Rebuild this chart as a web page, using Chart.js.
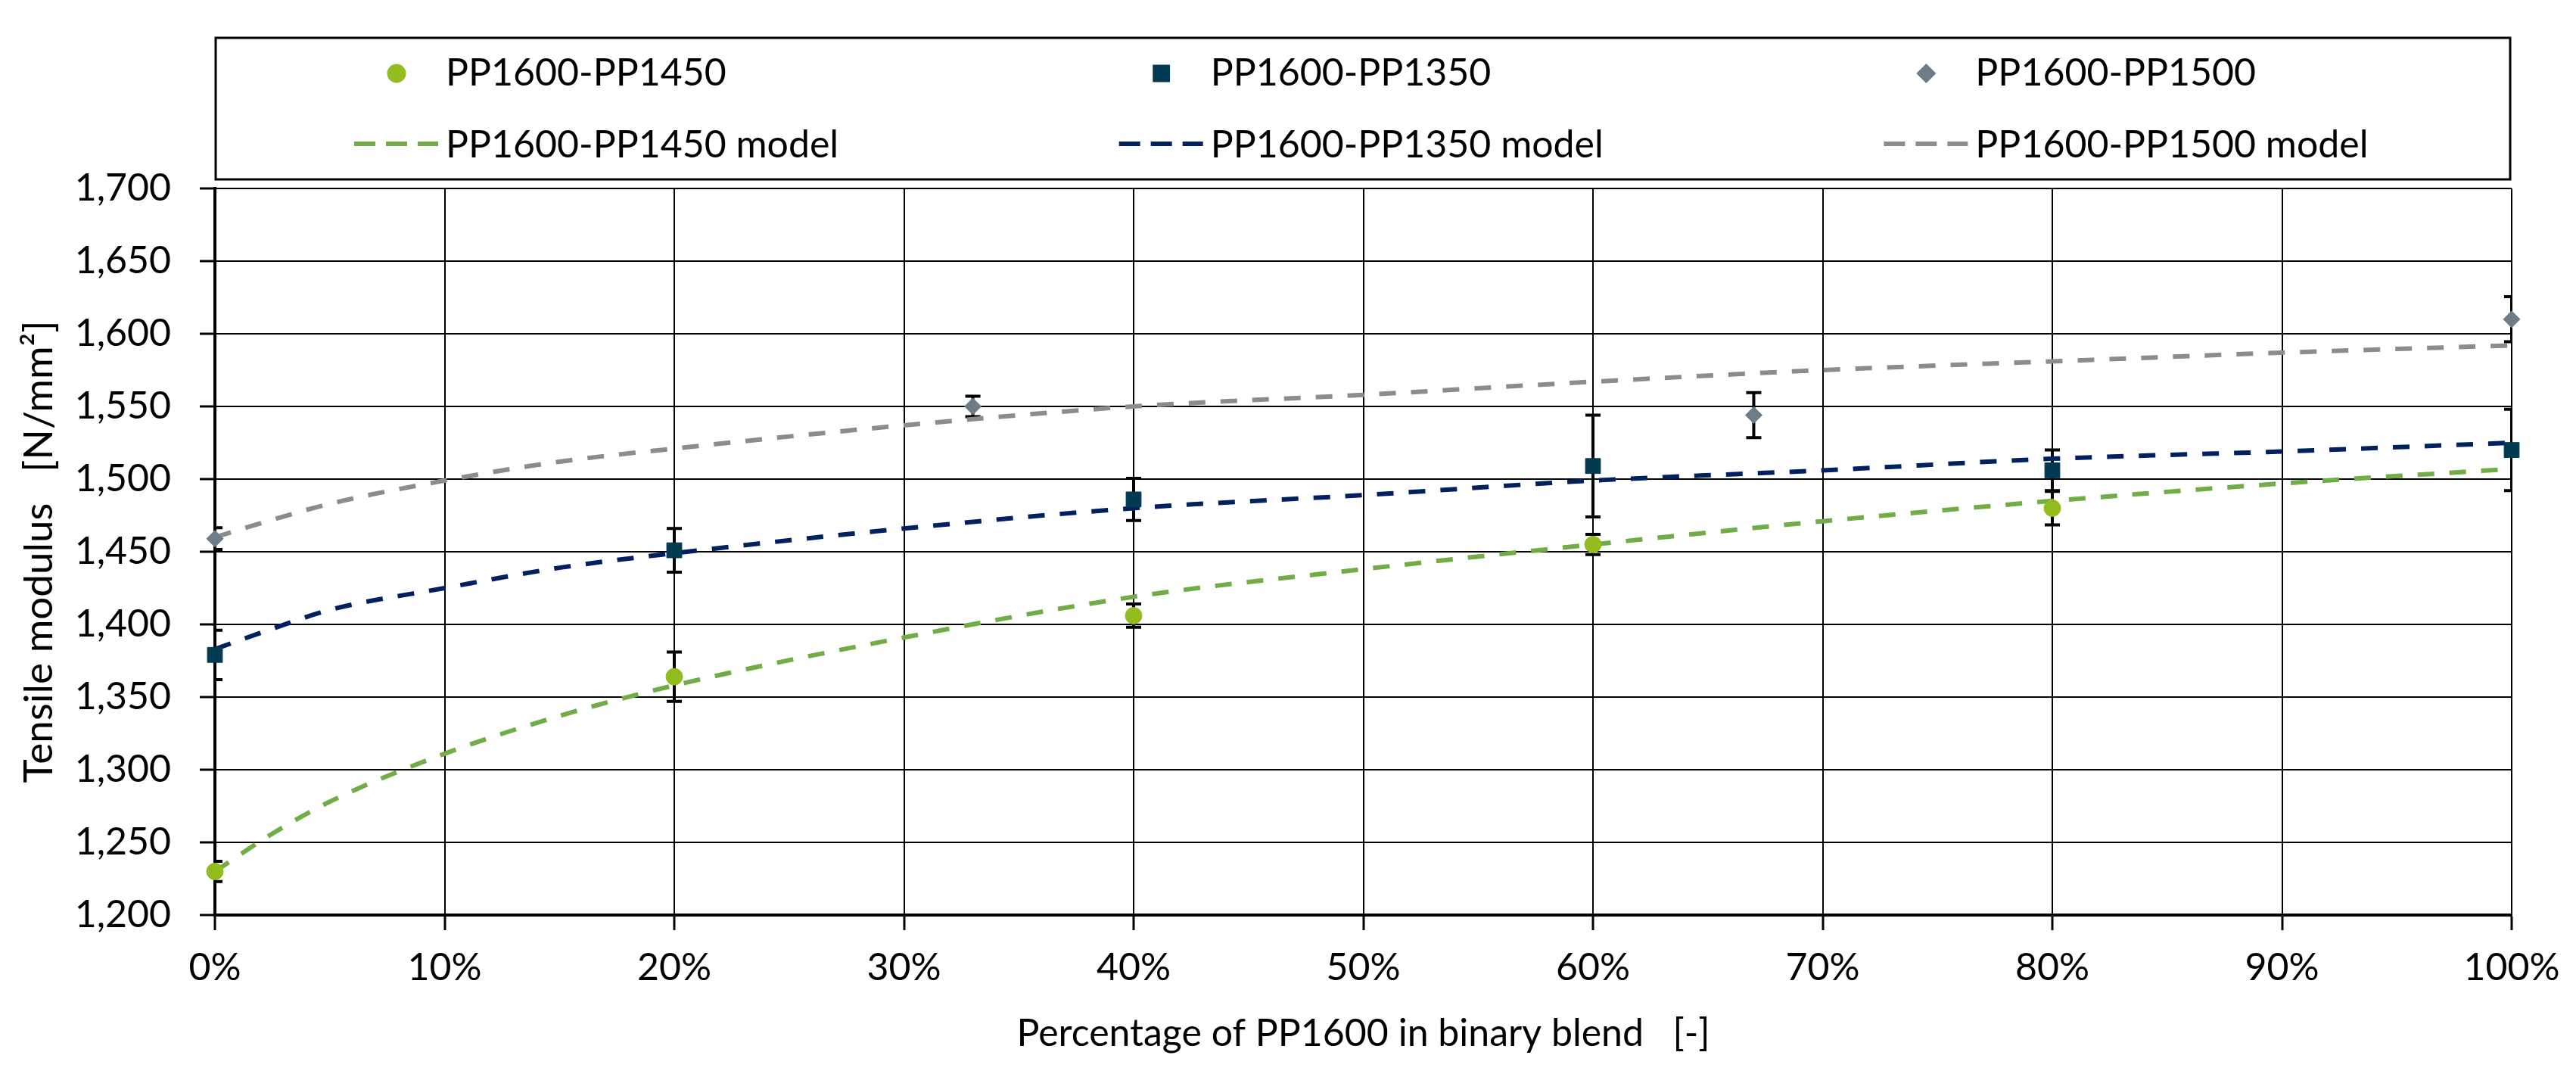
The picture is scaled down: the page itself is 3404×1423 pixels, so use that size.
<!DOCTYPE html>
<html lang="en">

<head>
    <meta charset="UTF-8">
    <title>Tensile modulus of PP1600 binary blends</title>
    <script src="https://cdn.jsdelivr.net/npm/chart.js"></script>
    <style>
        body { margin: 0; background: #ffffff; }
        #wrap { width: 3404px; height: 1423px; }
    </style>
</head>

<body>

    <div id="wrap"><canvas id="modulusChart" width="3404" height="1423"></canvas></div>

    <script>
        // measured points (x = % of PP1600 in the blend)
        const pp1450X = [0, 20, 40, 60, 80];
        const pp1450Y = [1230, 1364, 1406, 1455, 1480];
        const pp1450Err = [7, 17, 8, 7, 11.5];

        const pp1350X = [0, 20, 40, 60, 80, 100];
        const pp1350Y = [1379, 1451, 1486, 1509, 1506, 1520];
        const pp1350Err = [17, 15, 14.5, 35, 14, 28];

        const pp1500X = [0, 33, 67, 100];
        const pp1500Y = [1459, 1550, 1544, 1610];
        const pp1500Err = [7.5, 7, 15.5, 15.5];

        // model curves
        const modelX = [0, 2.5, 5, 10, 15, 20, 30, 40, 50, 60, 70, 80, 90, 100];
        const model1450 = [1230, 1256, 1278, 1311, 1337, 1358, 1391, 1419, 1438, 1455, 1471, 1485, 1497, 1507];
        const model1350 = [1383, 1397, 1410, 1425, 1439, 1449, 1466, 1480, 1489, 1499, 1506, 1514, 1519, 1525];
        const model1500 = [1460, 1472, 1483, 1499, 1512, 1521, 1537, 1550, 1558, 1567, 1575, 1581, 1587, 1592];

        const seriesNames = ['PP1600-PP1450', 'PP1600-PP1350', 'PP1600-PP1500'];

        const toPoints = (xs, ys) => xs.map((x, i) => ({ x: x, y: ys[i] }));

        // error bars, drawn under the markers
        const errorBars = {
            id: 'errorBars',
            beforeDatasetsDraw(chart) {
                const { ctx, chartArea: a } = chart;
                const xs = chart.scales.x, ys = chart.scales.y;
                ctx.save();
                ctx.beginPath();
                ctx.rect(a.left, a.top - 40, a.right - a.left, a.bottom - a.top + 80);
                ctx.clip();
                ctx.strokeStyle = '#000';
                ctx.lineWidth = 4;
                chart.data.datasets.forEach(ds => {
                    if (!ds.errors) return;
                    ds.data.forEach((p, j) => {
                        const x = xs.getPixelForValue(p.x);
                        const top = ys.getPixelForValue(p.y + ds.errors[j]);
                        const bot = ys.getPixelForValue(p.y - ds.errors[j]);
                        ctx.beginPath();
                        ctx.moveTo(x, top); ctx.lineTo(x, bot);
                        ctx.moveTo(x - 10, top); ctx.lineTo(x + 10, top);
                        ctx.moveTo(x - 10, bot); ctx.lineTo(x + 10, bot);
                        ctx.stroke();
                    });
                });
                ctx.restore();
            }
        };

        // boxed legend above the plot, 3 columns x 2 rows
        const legendBox = {
            id: 'legendBox',
            afterDraw(chart) {
                const { ctx, chartArea: a } = chart;
                const left = a.left + 1, right = a.right - 2, top = 50, bottom = 237;
                const colW = (right - left) / 3;
                ctx.save();
                ctx.strokeStyle = '#000';
                ctx.lineWidth = 3;
                ctx.strokeRect(left, top, right - left, bottom - top);

                ctx.font = '50px Lato';
                ctx.fillStyle = '#000';
                ctx.textBaseline = 'alphabetic';
                ctx.textAlign = 'left';

                chart.data.datasets.forEach((ds, i) => {
                    const col = i % 3, row = Math.floor(i / 3);
                    const tx = left + colW * col + 304;
                    const cy = row === 0 ? 97 : 190;
                    if (ds.showLine) {
                        ctx.save();
                        ctx.strokeStyle = ds.borderColor;
                        ctx.lineWidth = 6;
                        ctx.setLineDash([28, 14]);
                        ctx.beginPath();
                        ctx.moveTo(tx - 121, cy);
                        ctx.lineTo(tx - 10, cy);
                        ctx.stroke();
                        ctx.restore();
                    } else {
                        ctx.save();
                        ctx.fillStyle = ds.backgroundColor;
                        ctx.strokeStyle = ds.backgroundColor;
                        Chart.helpers.drawPoint(ctx, {
                            pointStyle: ds.pointStyle, radius: ds.pointRadius,
                            rotation: 0, borderWidth: 1
                        }, tx - 65, cy);
                        ctx.restore();
                    }
                    ctx.fillStyle = '#000';
                    ctx.fillText(ds.label, tx, (row === 0 ? 95 : 190) + 18);
                });
                ctx.restore();
            }
        };

        const pointSet = (label, xs, ys, errs, color, style, radius) => ({
            label: label,
            data: toPoints(xs, ys),
            errors: errs,
            showLine: false,
            pointStyle: style,
            pointRadius: radius,
            backgroundColor: color,
            borderColor: color,
            pointBorderWidth: 1,
            clip: false
        });

        const modelSet = (label, ys, color) => ({
            label: label,
            data: toPoints(modelX, ys),
            showLine: true,
            borderColor: color,
            backgroundColor: color,
            borderWidth: 6,
            borderDash: [22, 20],
            pointRadius: 0,
            cubicInterpolationMode: 'monotone'
        });

        Chart.defaults.font.family = 'Lato';
        Chart.defaults.font.size = 50;
        Chart.defaults.color = '#000';

        const ctx = document.getElementById('modulusChart').getContext('2d');
        new Chart(ctx, {
            type: 'scatter',
            data: {
                datasets: [
                    pointSet(seriesNames[0], pp1450X, pp1450Y, pp1450Err, '#93bd1f', 'circle', 11),
                    pointSet(seriesNames[1], pp1350X, pp1350Y, pp1350Err, '#023a52', 'rect', 14),
                    pointSet(seriesNames[2], pp1500X, pp1500Y, pp1500Err, '#6d7d87', 'rectRot', 11),
                    modelSet(seriesNames[0] + ' model', model1450, '#70ad47'),
                    modelSet(seriesNames[1] + ' model', model1350, '#002060'),
                    modelSet(seriesNames[2] + ' model', model1500, '#8c8c8c')
                ]
            },
            options: {
                responsive: false,
                animation: false,
                devicePixelRatio: 1,
                layout: { padding: { top: 249, right: 85, left: 0, bottom: 0 } },
                plugins: {
                    legend: { display: false },
                    tooltip: { enabled: false }
                },
                scales: {
                    x: {
                        type: 'linear',
                        min: 0,
                        max: 100,
                        ticks: { stepSize: 10, padding: 20, maxRotation: 0, callback: v => v + '%' },
                        grid: { color: '#000', lineWidth: 2, tickLength: 20, tickWidth: 3, tickColor: '#000' },
                        border: { color: '#000', width: 4 },
                        title: {
                            display: true,
                            text: 'Percentage of PP1600 in binary blend   [-]',
                            padding: { top: 0, bottom: 27 }
                        },
                        afterFit(scale) { scale.height = 214; }
                    },
                    y: {
                        min: 1200,
                        max: 1700,
                        ticks: { stepSize: 50, padding: 38, callback: v => v.toLocaleString('en-US') },
                        grid: { color: '#000', lineWidth: 2, tickLength: 20, tickWidth: 3, tickColor: '#000' },
                        border: { color: '#000', width: 4 },
                        title: {
                            display: true,
                            text: 'Tensile modulus   [N/mm²]',
                            font: { size: 53 },
                            padding: { top: 20, bottom: 0 }
                        },
                        afterFit(scale) { scale.width = 284; }
                    }
                }
            },
            plugins: [errorBars, legendBox]
        });
    </script>
</body>

</html>
